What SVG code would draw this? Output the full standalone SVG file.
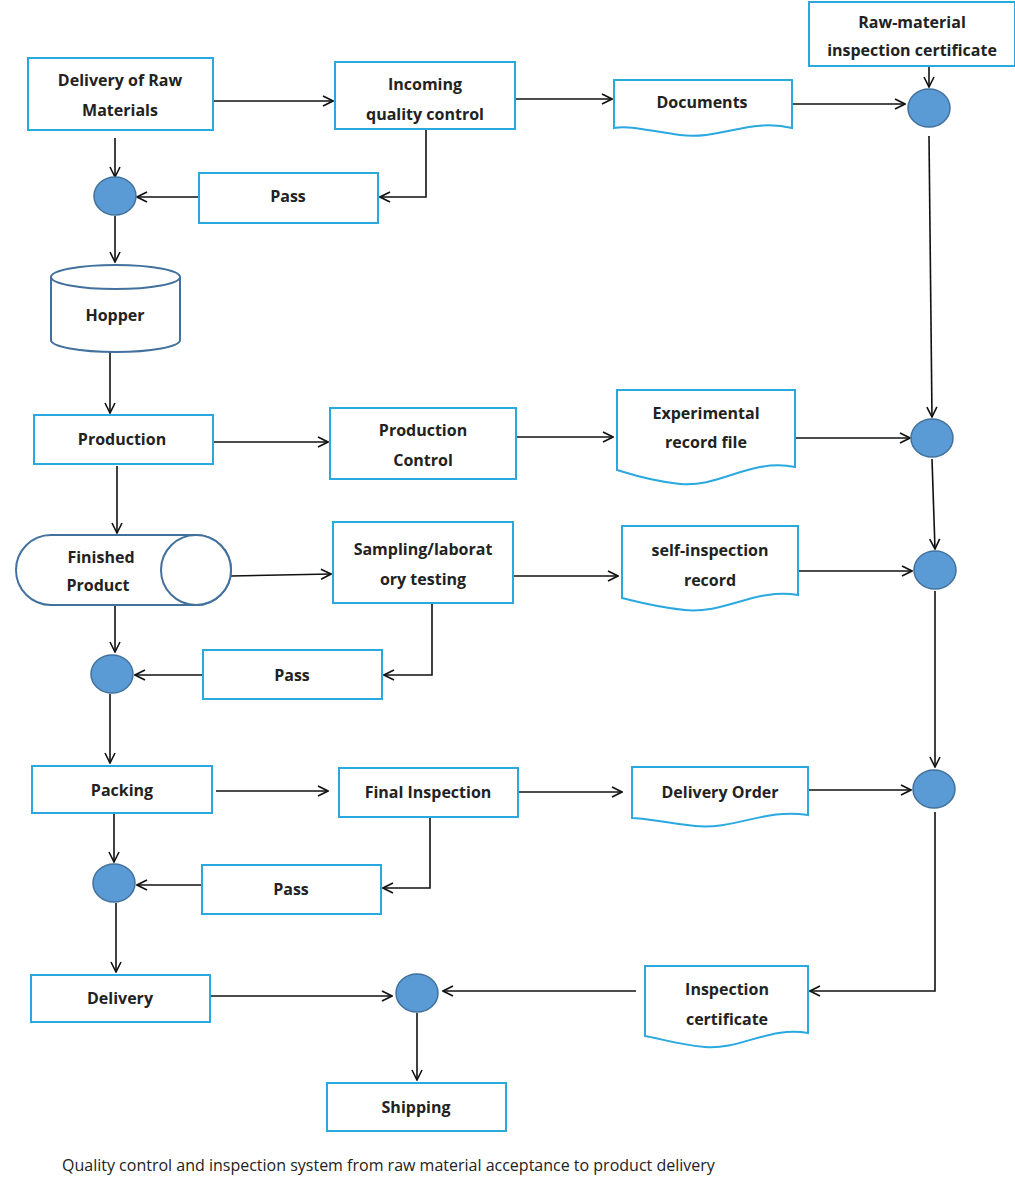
<svg xmlns="http://www.w3.org/2000/svg" width="1015" height="1192" viewBox="0 0 1015 1192">
<style>
.b{fill:#fff;stroke:#2aa8e0;stroke-width:2}
.s{fill:#fff;stroke:#41719c;stroke-width:2}
.c{fill:#5b9bd5;stroke:#41719c;stroke-width:1.5}
text{font-family:"Open Sans","Liberation Sans",sans-serif;font-size:16px;font-weight:bold;fill:#222;text-anchor:middle}
.cap{font-weight:normal;text-anchor:start;font-size:16px}
#conn path{fill:none;stroke:#111;stroke-width:1.6;marker-end:url(#a)}
</style>
<defs><marker id="a" viewBox="0 0 12 12" refX="11" refY="6" markerWidth="12" markerHeight="12" markerUnits="userSpaceOnUse" orient="auto"><path d="M1,1 L11,6 L1,11" fill="none" stroke="#111" stroke-width="1.6"/></marker></defs>
<rect width="1015" height="1192" fill="#fff"/>
<g id="conn">
<path d="M213,101H333"/><path d="M515,99H612"/><path d="M792,104H905"/><path d="M929,66V87"/>
<path d="M426,129V197H380"/><path d="M199,197H137"/><path d="M115,138V177"/><path d="M115,216V262"/>
<path d="M929,136L932,417"/><path d="M110,352V413"/><path d="M213,442H328"/><path d="M516,437H613"/>
<path d="M795,438H910"/><path d="M932,459L935,549"/><path d="M117,466V533"/><path d="M231,576L331,574"/>
<path d="M513,576H618"/><path d="M798,571H912"/><path d="M935,591V767"/><path d="M432,604V675H384"/>
<path d="M203,675H135"/><path d="M115,606V652"/><path d="M110,694V763"/><path d="M216,791H328"/>
<path d="M518,792H622"/><path d="M808,790H911"/><path d="M430,818V888H383"/><path d="M202,885H137"/>
<path d="M114,813V862"/><path d="M116,903V972"/><path d="M210,996H392"/><path d="M935,812V991H810"/>
<path d="M636,991H443"/><path d="M417,1013V1080"/>
</g>
<g id="n1"><rect class="b" x="28" y="58" width="185" height="72"/><text x="120" y="86">Delivery of Raw</text><text x="120" y="116">Materials</text></g>
<g id="n2"><rect class="b" x="335" y="62" width="180" height="67"/><text x="425" y="90">Incoming</text><text x="425" y="120">quality control</text></g>
<g id="n3"><path class="b" d="M614,80H792V128C750,118 720,140 680,135C650,131 630,125 614,128Z"/><text x="702" y="108">Documents</text></g>
<g id="n4"><rect class="b" x="809" y="2" width="206" height="64"/><text x="912" y="28">Raw-material</text><text x="912" y="56">inspection certificate</text></g>
<g id="c1"><ellipse class="c" cx="929" cy="108" rx="21" ry="19"/></g>
<g id="n5"><rect class="b" x="199" y="173" width="179" height="50"/><text x="288" y="202">Pass</text></g>
<g id="c2"><ellipse class="c" cx="115" cy="196" rx="21" ry="19"/></g>
<g id="n6"><path class="s" d="M51,277V340A64.5,12 0 0 0 180,340V277"/><ellipse class="s" cx="115.5" cy="277" rx="64.5" ry="12"/><text x="115" y="321">Hopper</text></g>
<g id="n7"><rect class="b" x="34" y="415" width="179" height="49"/><text x="122" y="445">Production</text></g>
<g id="n8"><rect class="b" x="330" y="408" width="186" height="71"/><text x="423" y="436">Production</text><text x="423" y="466">Control</text></g>
<g id="n9"><path class="b" d="M617,390H795V467C750,458 720,488 680,484C650,481 630,474 617,470Z"/><text x="706" y="419">Experimental</text><text x="706" y="448">record file</text></g>
<g id="c3"><ellipse class="c" cx="932" cy="438" rx="21" ry="19"/></g>
<g id="n10"><path class="s" d="M51,535H196A35,35 0 0 1 196,605H51A35,35 0 0 1 51,535Z"/><ellipse class="s" cx="196" cy="570" rx="35" ry="35"/><text x="101" y="563">Finished</text><text x="98" y="591">Product</text></g>
<g id="n11"><rect class="b" x="333" y="522" width="180" height="81"/><text x="423" y="555">Sampling/laborat</text><text x="423" y="585">ory testing</text></g>
<g id="n12"><path class="b" d="M622,526H798V595C755,588 725,614 685,610C655,607 635,601 622,598Z"/><text x="710" y="556">self-inspection</text><text x="710" y="586">record</text></g>
<g id="c4"><ellipse class="c" cx="935" cy="570" rx="21" ry="19"/></g>
<g id="n13"><rect class="b" x="203" y="650" width="179" height="49"/><text x="292" y="681">Pass</text></g>
<g id="c5"><ellipse class="c" cx="112" cy="674" rx="21" ry="19"/></g>
<g id="n14"><rect class="b" x="32" y="766" width="180" height="47"/><text x="122" y="796">Packing</text></g>
<g id="n15"><rect class="b" x="339" y="768" width="179" height="49"/><text x="428" y="798">Final Inspection</text></g>
<g id="n16"><path class="b" d="M632,767H808V815C765,808 735,830 695,826C665,823 645,818 632,818Z"/><text x="720" y="798">Delivery Order</text></g>
<g id="c6"><ellipse class="c" cx="934" cy="789" rx="21" ry="19"/></g>
<g id="n17"><rect class="b" x="202" y="865" width="179" height="49"/><text x="291" y="895">Pass</text></g>
<g id="c7"><ellipse class="c" cx="114" cy="883" rx="21" ry="19"/></g>
<g id="n18"><rect class="b" x="31" y="975" width="179" height="47"/><text x="120" y="1004">Delivery</text></g>
<g id="c8"><ellipse class="c" cx="417" cy="993" rx="21" ry="19"/></g>
<g id="n19"><path class="b" d="M645,966H808V1033C770,1026 740,1050 705,1047C675,1044 658,1038 645,1036Z"/><text x="727" y="995">Inspection</text><text x="727" y="1025">certificate</text></g>
<g id="n20"><rect class="b" x="327" y="1083" width="179" height="48"/><text x="416" y="1113">Shipping</text></g>
<text class="cap" x="62" y="1171">Quality control and inspection system from raw material acceptance to product delivery</text>
</svg>
